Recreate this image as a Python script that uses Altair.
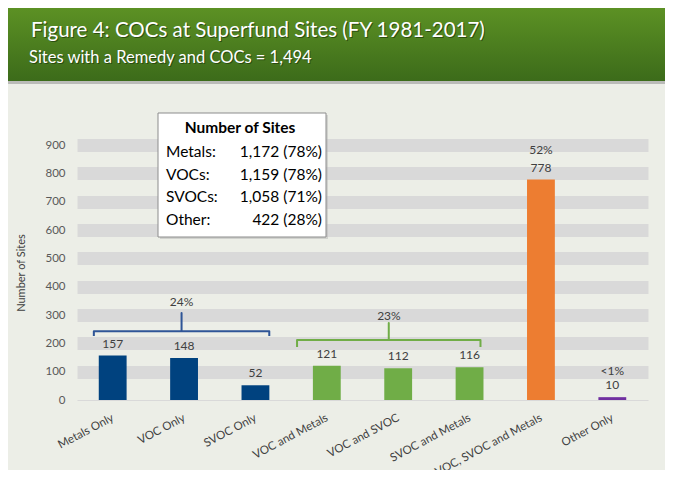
import altair as alt
import pandas as pd

# ---------------- data ----------------
categories = ["Metals Only", "VOC Only", "SVOC Only", "VOC and Metals",
              "VOC and SVOC", "SVOC and Metals", "VOC, SVOC and Metals", "Other Only"]
sites = [157, 148, 52, 121, 112, 116, 778, 10]
bar_colors = ["#00427f", "#00427f", "#00427f", "#70ad47", "#70ad47", "#70ad47",
              "#ed7d31", "#7030a0"]

y_ticks = [0, 100, 200, 300, 400, 500, 600, 700, 800, 900]

# percentage annotations (x in category index units, y in "Number of Sites")
pct_labels = ["24%", "23%", "52%", "<1%"]
pct_x = [0.965, 3.87, 6, 7]
pct_y = [346, 296, 882, 101]

# brackets (category index units / number of sites)
blue_bracket_x = [-0.264, -0.264, 0.965, 0.965, 0.965, 2.194, 2.194]
blue_bracket_y = [226, 243, 243, 307, 243, 243, 226]
green_bracket_x = [2.583, 2.583, 3.868, 3.868, 3.868, 5.153, 5.153]
green_bracket_y = [187, 212, 212, 272, 212, 212, 187]

legend_title = "Number of Sites"
legend_names = ["Metals:", "VOCs:", "SVOCs:", "Other:"]
legend_values = ["1,172 (78%)", "1,159 (78%)", "1,058 (71%)", "422 (28%)"]

title_text = "Figure 4: COCs at Superfund Sites (FY 1981-2017)"
subtitle_text = "Sites with a Remedy and COCs = 1,494"

FONT = "Lato"
BG = "#eceee7"

# ---------------- tables ----------------
bars = pd.DataFrame({
    "idx": list(range(len(categories))),
    "category": categories,
    "sites": sites,
    "color": bar_colors,
})
pcts = pd.DataFrame({"label": pct_labels, "x": pct_x, "y": pct_y})
brackets = pd.DataFrame({
    "x": blue_bracket_x + green_bracket_x,
    "y": blue_bracket_y + green_bracket_y,
    "order": list(range(len(blue_bracket_x))) + list(range(len(green_bracket_x))),
    "group": ["blue"] * len(blue_bracket_x) + ["green"] * len(green_bracket_x),
})
one = pd.DataFrame({"a": [0]})

label_expr = "[" + ",".join("'" + c + "'" for c in categories) + "][datum.value]"

x_scale = alt.Scale(domain=[-0.5, len(categories) - 0.5], nice=False, zero=False)
y_scale = alt.Scale(domain=[0, 900], nice=False)

x_axis = alt.Axis(values=list(range(len(categories))), labelExpr=label_expr,
                  labelAngle=-28, labelAlign="right", labelBaseline="middle",
                  labelPadding=17, ticks=False, domain=False, grid=False,
                  labelOverlap=False, labelBound=False,
                  title=None, labelFont=FONT, labelFontSize=11.5,
                  labelColor="#404040")
y_axis = alt.Axis(values=y_ticks, ticks=False, domain=False,
                  labelOverlap=False,
                  gridColor="#d9d9d9",
                  gridWidth={"condition": {"test": "datum.value === 0", "value": 1}, "value": 13},
                  labelPadding=12, labelFont=FONT, labelFontSize=11.5,
                  labelColor="#595959", title="Number of Sites",
                  titleFont=FONT, titleFontSize=11, titleFontWeight="normal",
                  titleColor="#404040", titlePadding=18)

base = alt.Chart(bars)

bar_layer = base.transform_calculate(
    lo="datum.idx - 0.195", hi="datum.idx + 0.195", zero="0"
).mark_rect().encode(
    x=alt.X("lo:Q", scale=x_scale, axis=x_axis),
    x2="hi:Q",
    y=alt.Y("sites:Q", scale=y_scale, axis=y_axis),
    y2="zero:Q",
    color=alt.Color("color:N", scale=None),
)

value_labels = base.mark_text(font=FONT, fontSize=12, color="#404040",
                              baseline="middle", dy=-12).encode(
    x=alt.X("idx:Q", scale=x_scale, axis=x_axis),
    y=alt.Y("sites:Q", scale=y_scale, axis=y_axis),
    text="sites:Q",
)

pct_layer = alt.Chart(pcts).mark_text(font=FONT, fontSize=12, color="#404040",
                                      baseline="middle").encode(
    x=alt.X("x:Q", scale=x_scale, axis=x_axis),
    y=alt.Y("y:Q", scale=y_scale, axis=y_axis),
    text="label:N",
)

bracket_layer = alt.Chart(brackets).mark_line(strokeWidth=2, strokeJoin="round").encode(
    x=alt.X("x:Q", scale=x_scale, axis=x_axis),
    y=alt.Y("y:Q", scale=y_scale, axis=y_axis),
    order="order:Q",
    detail="group:N",
    color=alt.Color("group:N", scale=alt.Scale(domain=["blue", "green"],
                                                range=["#2f5597", "#70ad47"]),
                    legend=None),
)

# header band
header_shadow = alt.Chart(one).mark_rect(color="#9a9a9a", opacity=0.6).encode(
    x=alt.value(-69), x2=alt.value(588), y=alt.value(-64), y2=alt.value(-61))
header = alt.Chart(one).mark_rect(
    color=alt.Gradient(gradient="linear", x1=0, y1=0, x2=0, y2=1,
                       stops=[alt.GradientStop(color="#5c9124", offset=0),
                              alt.GradientStop(color="#3c6b1a", offset=1)])
).encode(x=alt.value(-69), x2=alt.value(588), y=alt.value(-137), y2=alt.value(-64))

title_shadow = alt.Chart(one).mark_text(font=FONT, fontSize=20.5, color="#1e3a0c",
                                        opacity=0.7, align="left", baseline="alphabetic").encode(
    x=alt.value(-45), y=alt.value(-107), text=alt.value(title_text))
title = alt.Chart(one).mark_text(font=FONT, fontSize=20.5, color="white",
                                 align="left", baseline="alphabetic").encode(
    x=alt.value(-46), y=alt.value(-108), text=alt.value(title_text))
sub_shadow = alt.Chart(one).mark_text(font=FONT, fontSize=16.5, color="#1e3a0c",
                                      opacity=0.7, align="left", baseline="alphabetic").encode(
    x=alt.value(-47), y=alt.value(-81), text=alt.value(subtitle_text))
subtitle = alt.Chart(one).mark_text(font=FONT, fontSize=16.5, color="white",
                                    align="left", baseline="alphabetic").encode(
    x=alt.value(-48), y=alt.value(-82), text=alt.value(subtitle_text))

# info box
box_shadow = alt.Chart(one).mark_rect(fill="#b5b5b5", opacity=0.5).encode(
    x=alt.value(83), x2=alt.value(251), y=alt.value(-30), y2=alt.value(94))
box = alt.Chart(one).mark_rect(fill="white", stroke="#8c8c8c", strokeWidth=1).encode(
    x=alt.value(81), x2=alt.value(249), y=alt.value(-32), y2=alt.value(92))
box_title = alt.Chart(one).mark_text(font=FONT, fontSize=15.5, fontWeight="bold",
                                     color="black", baseline="middle").encode(
    x=alt.value(163), y=alt.value(-17), text=alt.value(legend_title))
box_names = alt.Chart(one).mark_text(font=FONT, fontSize=15.5, color="black",
                                     align="left", baseline="middle",
                                     lineBreak="\n", lineHeight=22.7).encode(
    x=alt.value(89), y=alt.value(7), text=alt.value("\n".join(legend_names)))
box_values = alt.Chart(one).mark_text(font=FONT, fontSize=15.5, color="black",
                                      align="right", baseline="middle",
                                      lineBreak="\n", lineHeight=22.7).encode(
    x=alt.value(245), y=alt.value(7), text=alt.value("\n".join(legend_values)))

chart = alt.layer(
    header_shadow, header, title_shadow, title, sub_shadow, subtitle,
    bar_layer, value_labels, pct_layer, bracket_layer,
    box_shadow, box, box_title, box_names, box_values,
).properties(
    width=571, height=255,
    autosize=alt.AutoSizeParams(type="none"),
    padding={"left": 69, "top": 137, "right": 17, "bottom": 70},
    background=BG,
).configure_view(stroke=None)

chart.save("out.html", embed_options={"renderer": "svg", "actions": False})
